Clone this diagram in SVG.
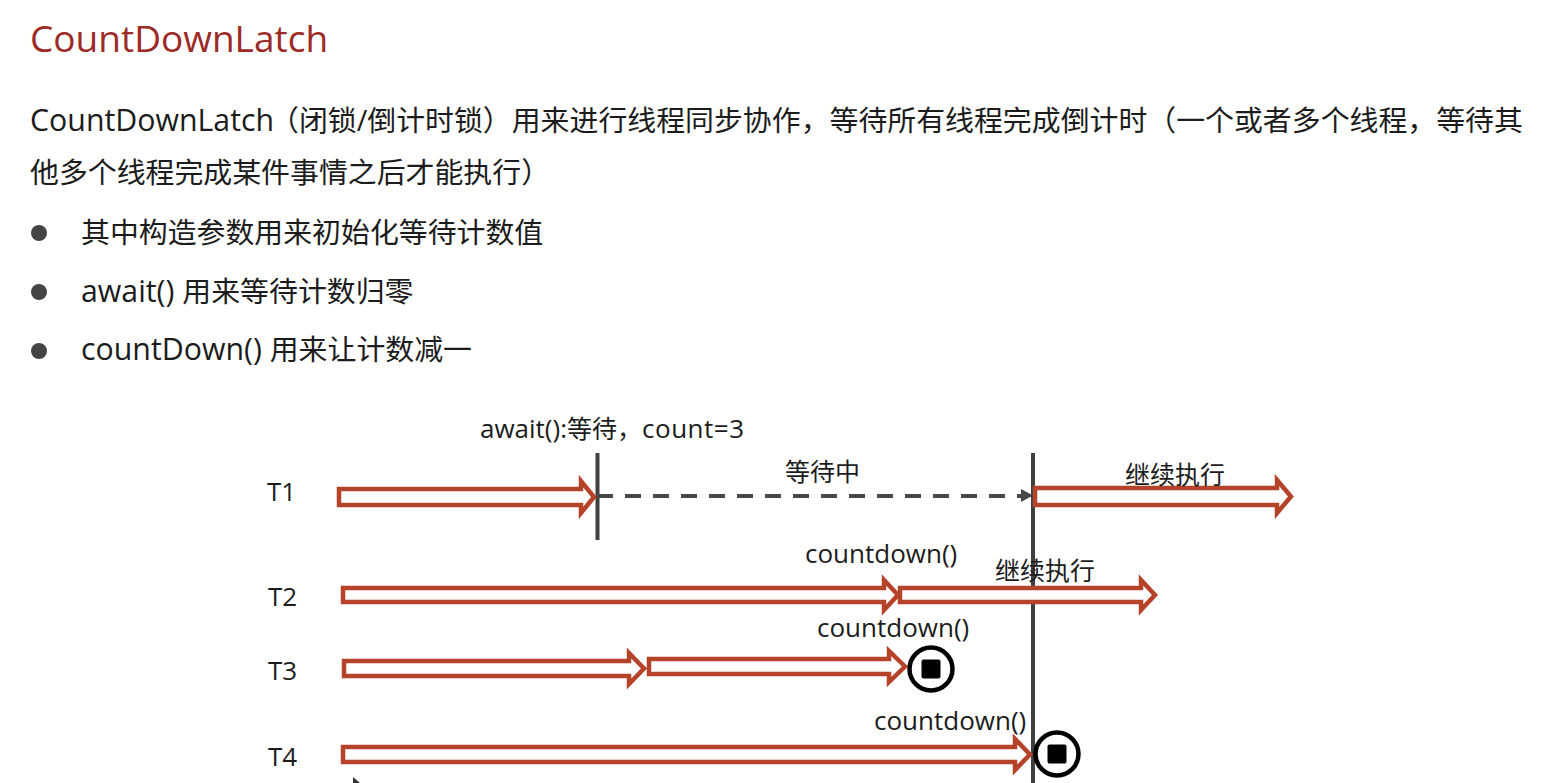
<svg xmlns="http://www.w3.org/2000/svg" width="1546" height="783" viewBox="0 0 1546 783">
<style>
text{font-family:"Open Sans","Noto Sans CJK SC",sans-serif;fill:#1c1c1c}
.body{font-size:28.900px}
.bl{font-size:30.300px}
.lab{font-size:25px}
.ll{font-size:26px}
.title{font-size:37px;fill:#9c2a26}
.blk{fill:#fff;stroke:#b5432a;stroke-width:4.500}
.bar{stroke:#404040;stroke-width:4;fill:none}
.dash{stroke:#484848;stroke-width:4;stroke-dasharray:16 12;fill:none}
.ring{fill:#fff;stroke:#000;stroke-width:4.500}
.bul{fill:#444}
</style>
<rect width="1546" height="783" fill="#fff"/>
<g id="heading">
<text class="title" x="30" y="52">CountDownLatch</text>
<text class="body" x="30" y="131"><tspan class="bl">CountDownLatch</tspan><tspan x="270">（闭锁/倒计时锁）用来进行线程同步协作，等待所有线程完成倒计时（一个或者多个线程，等待其</tspan></text>
<text class="body" x="30" y="183">他多个线程完成某件事情之后才能执行）</text>
</g>
<g id="bullets">
<circle class="bul" cx="39" cy="233" r="8"/><text class="body" x="81" y="243">其中构造参数用来初始化等待计数值</text>
<circle class="bul" cx="39" cy="292" r="8"/><text class="body" x="81" y="302"><tspan class="bl">await() </tspan>用来等待计数归零</text>
<circle class="bul" cx="39" cy="351" r="8"/><text class="body" x="81" y="360"><tspan class="bl">countDown() </tspan>用来让计数减一</text>
</g>
<g id="connectors">
<path class="bar" d="M597.500 453V540"/>
<path class="bar" d="M1033 453V783"/>
<path class="dash" d="M597 496H1022"/>
<path fill="#484848" d="M1021 489L1033 495.500L1021 502Z"/>
</g>
<g id="t1"><text class="ll" x="267" y="501">T1</text>
<polygon class="blk" points="339,489 581,489 581,481 594,497 581,513 581,505 339,505"/>
<polygon class="blk" points="1035,488 1277,488 1277,480 1291,496.500 1277,513 1277,505 1035,505"/></g>
<g id="t2"><text class="ll" x="268" y="606">T2</text>
<polygon class="blk" points="343,588 884,588 884,580 898,595 884,610 884,602 343,602"/>
<polygon class="blk" points="900,588 1141,588 1141,580 1155,595 1141,610 1141,602 900,602"/></g>
<g id="t3"><text class="ll" x="268" y="680">T3</text>
<polygon class="blk" points="344,661 629,661 629,653 644,668.500 629,684 629,676 344,676"/>
<polygon class="blk" points="649,659 889,659 889,651 905,666.500 889,682 889,674 649,674"/>
<circle class="ring" cx="931" cy="669" r="21.500"/><rect x="921.500" y="659.500" width="19" height="19" rx="2" fill="#000"/></g>
<g id="t4"><text class="ll" x="268" y="766">T4</text>
<polygon class="blk" points="343,747 1015,747 1015,739 1030,754.500 1015,770 1015,762 343,762"/>
<circle class="ring" cx="1057" cy="754" r="21.500"/><rect x="1047.500" y="744.500" width="19" height="19" rx="2" fill="#000"/></g>
<g id="labels">
<text class="lab" x="480" y="438"><tspan class="ll">await():</tspan>等待，<tspan class="ll" letter-spacing="0.500">count=3</tspan></text>
<text class="lab" x="785" y="481">等待中</text>
<text class="lab" x="1125" y="484">继续执行</text>
<text class="ll" x="805" y="563">countdown()</text>
<text class="lab" x="995" y="580">继续执行</text>
<text class="ll" x="817" y="637">countdown()</text>
<text class="ll" x="874" y="730">countdown()</text>
</g>
<path fill="#333" d="M353 777L360 783H353Z"/>
</svg>
